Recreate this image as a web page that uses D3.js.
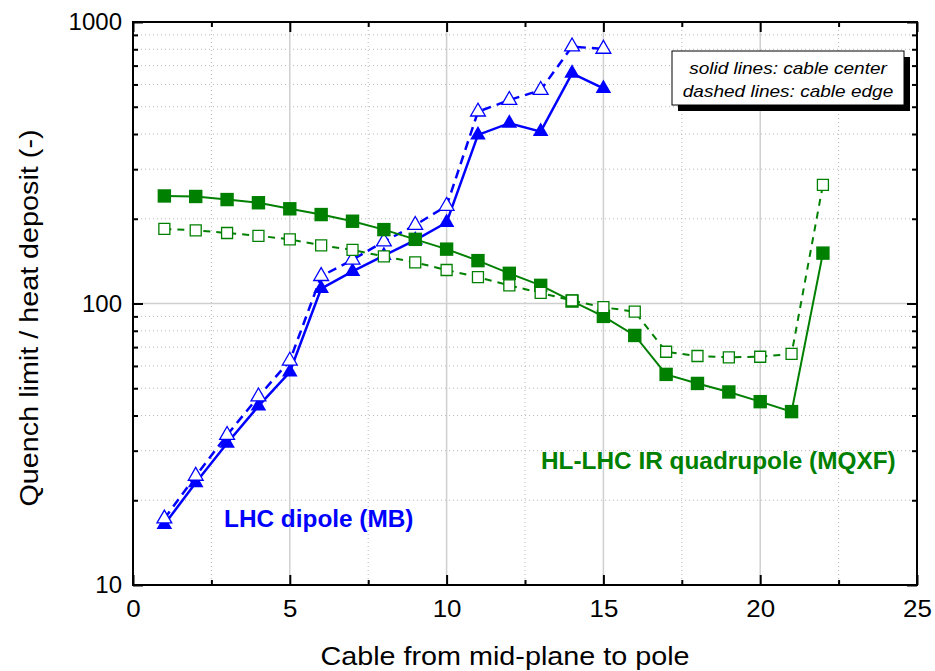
<!DOCTYPE html>
<html>
<head>
<meta charset="utf-8">
<script src="https://cdn.jsdelivr.net/npm/d3@7"></script>
<style>
  body { margin: 0; background: #fff; }
  text { font-family: "Liberation Sans", Arial, sans-serif; }
</style>
</head>
<body>
<svg id="chart" width="935" height="671"></svg>
<script>
// cable number (x) and ratio quench limit / heat deposit (y)
var mbCable = [1, 2, 3, 4, 5, 6, 7, 8, 9, 10, 11, 12, 13, 14, 15];
var mbCenter = [16.4, 23.1, 31.9, 43.2, 57.1, 113, 130, 148, 168, 194, 397, 437, 408, 657, 581];
var mbEdge = [17.2, 24.4, 34.1, 46.7, 62.6, 125, 143, 166, 190, 222, 480, 528, 573, 818, 802];

var mqxfCable = [1, 2, 3, 4, 5, 6, 7, 8, 9, 10, 11, 12, 13, 14, 15, 16, 17, 18, 19, 20, 21, 22];
var mqxfCenter = [241, 240, 234, 228, 217, 207, 196, 183, 169, 156, 142, 128, 116, 102, 90, 77, 56, 52, 48.5, 44.8, 41.3, 151];
var mqxfEdge = [184, 182, 178, 174, 169, 161, 155, 147, 140, 131.5, 124, 116, 109, 102.5, 97, 93.5, 67.4, 65.1, 64.4, 64.7, 66.2, 264];

var xMajor = [0, 5, 10, 15, 20, 25];
var xMinor = [2.5, 7.5, 12.5, 17.5, 22.5];
var yMajor = [10, 100, 1000];
var yMinor = [20, 30, 40, 50, 60, 70, 80, 90, 200, 300, 400, 500, 600, 700, 800, 900];

var xTitle = "Cable from mid-plane to pole";
var yTitle = "Quench limit / heat deposit (-)";
var legendLines = ["solid lines: cable center", "dashed lines: cable edge"];

var blue = "#0000ff", green = "#008000";

var svg = d3.select("#chart");
var pLeft = 133, pRight = 917, pTop = 22, pBottom = 585;

var x = d3.scaleLinear().domain([0, 25]).range([pLeft, pRight]);
var y = d3.scaleLog().domain([10, 1000]).range([pBottom, pTop]);

function drawGrid() {
  var g = svg.append("g").attr("class", "grid");
  g.selectAll(".xminor").data(xMinor).enter().append("line")
    .attr("x1", d => x(d)).attr("x2", d => x(d))
    .attr("y1", pTop).attr("y2", pBottom)
    .attr("stroke", "#b8b8b8").attr("stroke-dasharray", "1,3");
  g.selectAll(".yminor").data(yMinor).enter().append("line")
    .attr("x1", pLeft).attr("x2", pRight)
    .attr("y1", d => y(d)).attr("y2", d => y(d))
    .attr("stroke", "#b8b8b8").attr("stroke-dasharray", "1,3");
  g.selectAll(".xmajor").data(xMajor.slice(1, -1)).enter().append("line")
    .attr("x1", d => x(d)).attr("x2", d => x(d))
    .attr("y1", pTop).attr("y2", pBottom)
    .attr("stroke", "#cfcfcf").attr("stroke-width", 1.5);
  g.selectAll(".ymajor").data(yMajor.slice(1, -1)).enter().append("line")
    .attr("x1", pLeft).attr("x2", pRight)
    .attr("y1", d => y(d)).attr("y2", d => y(d))
    .attr("stroke", "#cfcfcf").attr("stroke-width", 1.5);
}

function styleAxis(g) {
  g.select(".domain").remove();
  g.selectAll(".tick line").attr("stroke", "#000").attr("stroke-width", 2);
  g.selectAll("text").attr("fill", "#000").style("font-size", "24px")
    .style("font-family", "'Liberation Sans', Arial, sans-serif");
}

function drawAxes() {
  // major ticks point inward on every side
  svg.append("g").attr("transform", "translate(0," + pBottom + ")")
    .call(d3.axisBottom(x).tickValues(xMajor).tickSize(-10).tickPadding(15).tickFormat(d3.format("d")))
    .call(styleAxis)
    .selectAll("text").attr("transform", "scale(1.08,1)");
  svg.append("g").attr("transform", "translate(0," + pBottom + ")")
    .call(d3.axisBottom(x).tickValues(xMinor).tickSize(-5).tickFormat(""))
    .call(styleAxis);
  svg.append("g").attr("transform", "translate(0," + pTop + ")")
    .call(d3.axisTop(x).tickValues(xMajor).tickSize(-10).tickFormat(""))
    .call(styleAxis);
  svg.append("g").attr("transform", "translate(0," + pTop + ")")
    .call(d3.axisTop(x).tickValues(xMinor).tickSize(-5).tickFormat(""))
    .call(styleAxis);

  svg.append("g").attr("transform", "translate(" + pLeft + ",0)")
    .call(d3.axisLeft(y).tickValues(yMajor).tickSize(-10).tickPadding(11).tickFormat(d3.format("d")))
    .call(styleAxis);
  svg.append("g").attr("transform", "translate(" + pLeft + ",0)")
    .call(d3.axisLeft(y).tickValues(yMinor).tickSize(-5).tickFormat(""))
    .call(styleAxis);
  svg.append("g").attr("transform", "translate(" + pRight + ",0)")
    .call(d3.axisRight(y).tickValues(yMajor).tickSize(-10).tickFormat(""))
    .call(styleAxis);
  svg.append("g").attr("transform", "translate(" + pRight + ",0)")
    .call(d3.axisRight(y).tickValues(yMinor).tickSize(-5).tickFormat(""))
    .call(styleAxis);

  svg.append("rect")
    .attr("x", pLeft).attr("y", pTop)
    .attr("width", pRight - pLeft).attr("height", pBottom - pTop)
    .attr("fill", "none").attr("stroke", "#000").attr("stroke-width", 2);
}

function drawSeries(xs, ys, opts) {
  var pts = xs.map((d, i) => [d, ys[i]]);
  var line = d3.line().x(d => x(d[0])).y(d => y(d[1]));
  svg.append("path")
    .datum(pts)
    .attr("d", line)
    .attr("fill", "none")
    .attr("stroke", opts.color)
    .attr("stroke-width", opts.width)
    .attr("stroke-dasharray", opts.dash || null);
  svg.append("g").selectAll("path").data(pts).enter().append("path")
    .attr("transform", d => "translate(" + x(d[0]) + "," + y(d[1]) + ")")
    .attr("d", d3.symbol(opts.symbol, opts.size))
    .attr("fill", opts.hollow ? "#fff" : opts.color)
    .attr("stroke", opts.hollow ? opts.color : "none")
    .attr("stroke-width", 1.3);
}

function drawLabels() {
  svg.append("text")
    .attr("transform", "translate(505,665) scale(1.15,1)")
    .attr("text-anchor", "middle")
    .style("font-size", "25px")
    .text(xTitle);
  svg.append("text")
    .attr("transform", "translate(38,318) rotate(-90) scale(1.15,1)")
    .attr("text-anchor", "middle")
    .style("font-size", "25px")
    .text(yTitle);

  svg.append("text")
    .attr("transform", "translate(224,527) scale(1.06,1)")
    .attr("fill", blue)
    .style("font-size", "23px").style("font-weight", "bold")
    .text("LHC dipole (MB)");
  svg.append("text")
    .attr("transform", "translate(541,469) scale(1.06,1)")
    .attr("fill", green)
    .style("font-size", "23px").style("font-weight", "bold")
    .text("HL-LHC IR quadrupole (MQXF)");
}

function drawLegend() {
  var g = svg.append("g");
  g.append("rect")
    .attr("x", 678).attr("y", 57).attr("width", 232).attr("height", 54)
    .attr("fill", "#000");
  g.append("rect")
    .attr("x", 672).attr("y", 51).attr("width", 232).attr("height", 54)
    .attr("fill", "#fff").attr("stroke", "#000").attr("stroke-width", 1);
  g.selectAll("text").data(legendLines).enter().append("text")
    .attr("transform", (d, i) => "translate(788," + (74 + i * 23) + ") scale(1.12,1)")
    .attr("text-anchor", "middle")
    .style("font-size", "17px").style("font-style", "italic")
    .text(d => d);
}

drawGrid();

drawSeries(mbCable, mbCenter, {color: blue, width: 2.5, symbol: d3.symbolTriangle, size: 105});
drawSeries(mbCable, mbEdge, {color: blue, width: 2.5, dash: "9,6", symbol: d3.symbolTriangle, size: 95, hollow: true});
drawSeries(mqxfCable, mqxfCenter, {color: green, width: 2, symbol: d3.symbolSquare, size: 180});
drawSeries(mqxfCable, mqxfEdge, {color: green, width: 2, dash: "7,6", symbol: d3.symbolSquare, size: 121, hollow: true});

drawAxes();
drawLabels();
drawLegend();
</script>
</body>
</html>
